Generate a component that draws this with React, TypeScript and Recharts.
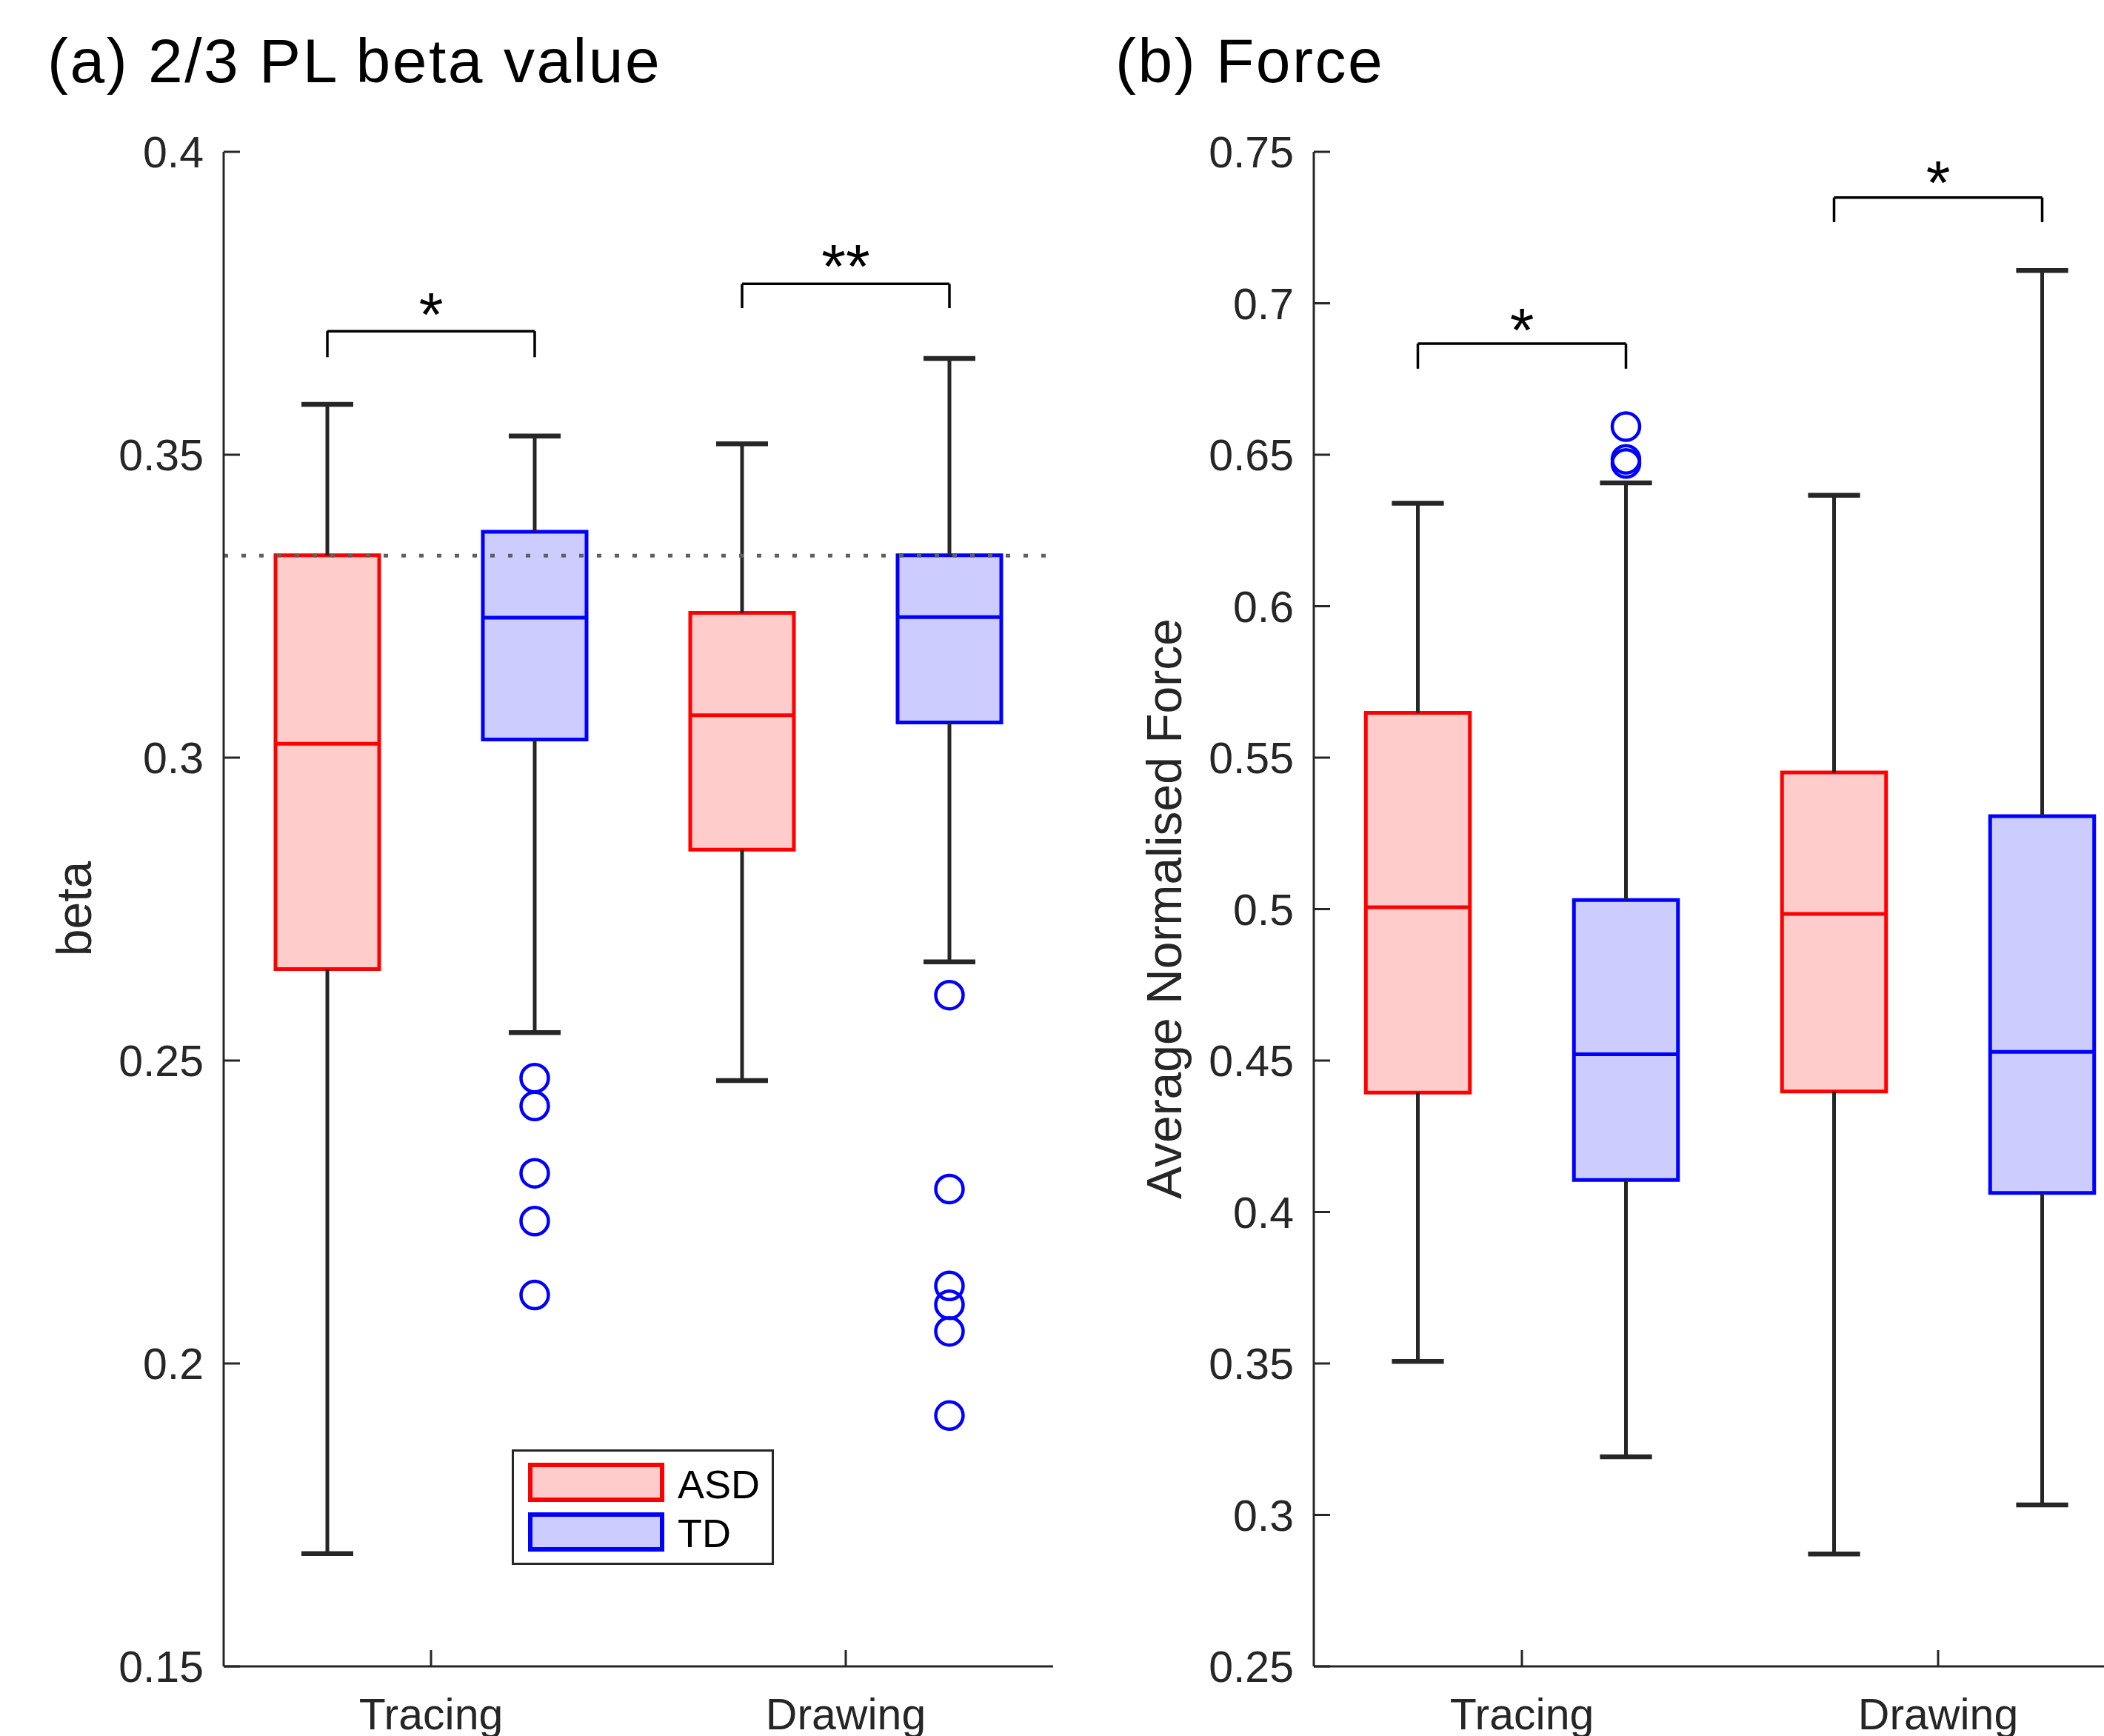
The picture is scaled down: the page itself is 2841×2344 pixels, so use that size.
import React from 'react';
import { ComposedChart, XAxis, YAxis, Scatter, ReferenceArea, ReferenceLine, ReferenceDot, Legend } from 'recharts';

// groups and categories
const CATEGORIES = ['Tracing', 'Drawing'];
const CATEGORY_TICKS = [1.5, 3.5];
const GROUPS = ['ASD', 'TD'];
const BOX_POSITIONS = [1, 2, 3, 4]; // ASD Tracing, TD Tracing, ASD Drawing, TD Drawing
const BOX_GROUP = [0, 1, 0, 1];

// (a) 2/3 PL beta value
const BETA_TICKS = [0.15, 0.2, 0.25, 0.3, 0.35, 0.4];
const BETA_LOW = [0.1686, 0.2546, 0.2467, 0.2663];
const BETA_Q1 = [0.2651, 0.303, 0.2848, 0.3058];
const BETA_MEDIAN = [0.3023, 0.3231, 0.307, 0.3232];
const BETA_Q3 = [0.3334, 0.3373, 0.3239, 0.3334];
const BETA_HIGH = [0.3583, 0.3531, 0.3518, 0.3659];
const BETA_OUTLIERS = [[], [0.2471, 0.2425, 0.2314, 0.2235, 0.2113], [], [0.2608, 0.2288, 0.2128, 0.2097, 0.2053, 0.1914]];
const BETA_REFERENCE = 1 / 3;
const BETA_SIG_FROM = [1, 3];
const BETA_SIG_TO = [2, 4];
const BETA_SIG_TOP = [0.3704, 0.3782];
const BETA_SIG_LEG = [0.3661, 0.3742];
const BETA_SIG_STAR = [0.3756, 0.3835];
const BETA_SIG_LABEL = ['*', '**'];

// (b) Force
const FORCE_TICKS = [0.25, 0.3, 0.35, 0.4, 0.45, 0.5, 0.55, 0.6, 0.65, 0.7, 0.75];
const FORCE_LOW = [0.3507, 0.3192, 0.2871, 0.3033];
const FORCE_Q1 = [0.4394, 0.4106, 0.4398, 0.4063];
const FORCE_MEDIAN = [0.5006, 0.4521, 0.4984, 0.4529];
const FORCE_Q3 = [0.5648, 0.503, 0.5451, 0.5307];
const FORCE_HIGH = [0.634, 0.6407, 0.6366, 0.7108];
const FORCE_OUTLIERS = [[], [0.6593, 0.6485, 0.6471], [], []];
const FORCE_SIG_FROM = [1, 3];
const FORCE_SIG_TO = [2, 4];
const FORCE_SIG_TOP = [0.6867, 0.7349];
const FORCE_SIG_LEG = [0.6784, 0.7268];
const FORCE_SIG_STAR = [0.696, 0.7447];
const FORCE_SIG_LABEL = ['*', '*'];

const FONT = '"Liberation Sans", Arial, Helvetica, sans-serif';
const INK = '#262626';
const EDGE = ['#FF0000', '#0000FF'];
const FILL = ['#FFCCCC', '#CCCCFF'];

function YTick(props: any) {
  const { x, y, payload } = props;
  return (
    <g>
      <line x1={x} y1={y} x2={x + 22} y2={y} stroke={INK} strokeWidth={3} />
      <text x={x - 27} y={y + 21} textAnchor="end" fontFamily={FONT} fontSize={59} fill={INK}>
        {String(payload.value)}
      </text>
    </g>
  );
}

function XTick(props: any) {
  const { x, y, payload } = props;
  const label = CATEGORIES[CATEGORY_TICKS.indexOf(payload.value)];
  return (
    <g>
      <line x1={x} y1={y} x2={x} y2={y - 22} stroke={INK} strokeWidth={3} />
      <text x={x} y={y + 85} textAnchor="middle" fontFamily={FONT} fontSize={59} fill={INK}>
        {label}
      </text>
    </g>
  );
}

function LegendBox() {
  return (
    <svg width={354} height={156} style={{ display: 'block' }}>
      <rect x={1.5} y={1.5} width={351} height={153} fill="#fff" stroke={INK} strokeWidth={3} />
      {GROUPS.map((g, i) => (
        <g key={g}>
          <rect x={25} y={21 + i * 67} width={178} height={47} fill={FILL[i]} stroke={EDGE[i]} strokeWidth={6} />
          <text x={224} y={66 + i * 66} fontFamily={FONT} fontSize={54} fill="#000">{g}</text>
        </g>
      ))}
    </svg>
  );
}

interface PanelProps {
  width: number;
  margin: { top: number; right: number; bottom: number; left: number };
  ticks: number[];
  low: number[];
  q1: number[];
  median: number[];
  q3: number[];
  high: number[];
  outliers: number[][];
  sigFrom: number[];
  sigTo: number[];
  sigTop: number[];
  sigLeg: number[];
  sigStar: number[];
  sigLabel: string[];
  refY?: number;
  showLegend?: boolean;
}

function BoxPanel(p: PanelProps) {
  const points = p.outliers.flatMap((vals, i) => vals.map(v => ({ x: BOX_POSITIONS[i], y: v })));
  const domain = [p.ticks[0], p.ticks[p.ticks.length - 1]];
  const whisker = { stroke: INK, strokeWidth: 5, ifOverflow: 'visible' as const };
  const cap = { stroke: INK, strokeWidth: 6.5, ifOverflow: 'visible' as const };
  const bracket = { stroke: '#000', strokeWidth: 3.5, ifOverflow: 'visible' as const };

  return (
    <ComposedChart width={p.width} height={2344} margin={p.margin}>
      <XAxis
        type="number"
        dataKey="x"
        domain={[0.5, 4.5]}
        ticks={CATEGORY_TICKS}
        interval={0}
        height={94}
        tickSize={0}
        tickMargin={0}
        tickLine={false}
        axisLine={{ stroke: INK, strokeWidth: 3 }}
        tick={(t: any) => <XTick {...t} />}
      />
      <YAxis
        type="number"
        dataKey="y"
        domain={domain}
        ticks={p.ticks}
        interval={0}
        width={200}
        tickSize={0}
        tickMargin={0}
        tickLine={false}
        axisLine={{ stroke: INK, strokeWidth: 3 }}
        tick={(t: any) => <YTick {...t} />}
      />

      {BOX_POSITIONS.map((x, i) => (
        <ReferenceLine key={`wl${i}`} segment={[{ x, y: p.low[i] }, { x, y: p.q1[i] }]} {...whisker} />
      ))}
      {BOX_POSITIONS.map((x, i) => (
        <ReferenceLine key={`wh${i}`} segment={[{ x, y: p.q3[i] }, { x, y: p.high[i] }]} {...whisker} />
      ))}
      {BOX_POSITIONS.map((x, i) => (
        <ReferenceLine key={`cl${i}`} segment={[{ x: x - 0.125, y: p.low[i] }, { x: x + 0.125, y: p.low[i] }]} {...cap} />
      ))}
      {BOX_POSITIONS.map((x, i) => (
        <ReferenceLine key={`ch${i}`} segment={[{ x: x - 0.125, y: p.high[i] }, { x: x + 0.125, y: p.high[i] }]} {...cap} />
      ))}
      {BOX_POSITIONS.map((x, i) => (
        <ReferenceArea
          key={`box${i}`}
          x1={x - 0.25}
          x2={x + 0.25}
          y1={p.q1[i]}
          y2={p.q3[i]}
          fill={FILL[BOX_GROUP[i]]}
          fillOpacity={1}
          stroke={EDGE[BOX_GROUP[i]]}
          strokeWidth={5}
          ifOverflow="visible"
        />
      ))}
      {BOX_POSITIONS.map((x, i) => (
        <ReferenceLine
          key={`med${i}`}
          segment={[{ x: x - 0.25, y: p.median[i] }, { x: x + 0.25, y: p.median[i] }]}
          stroke={EDGE[BOX_GROUP[i]]}
          strokeWidth={5}
          ifOverflow="visible"
        />
      ))}

      {p.refY !== undefined && (
        <ReferenceLine y={p.refY} stroke="#5f5f5f" strokeWidth={5} strokeDasharray="6 18" ifOverflow="visible" />
      )}

      {p.sigFrom.map((a, i) => (
        <ReferenceLine key={`bl${i}`} segment={[{ x: a, y: p.sigLeg[i] }, { x: a, y: p.sigTop[i] }]} {...bracket} />
      ))}
      {p.sigFrom.map((a, i) => (
        <ReferenceLine key={`bt${i}`} segment={[{ x: a, y: p.sigTop[i] }, { x: p.sigTo[i], y: p.sigTop[i] }]} {...bracket} />
      ))}
      {p.sigTo.map((b, i) => (
        <ReferenceLine key={`br${i}`} segment={[{ x: b, y: p.sigLeg[i] }, { x: b, y: p.sigTop[i] }]} {...bracket} />
      ))}
      {p.sigFrom.map((a, i) => (
        <ReferenceDot
          key={`star${i}`}
          x={(a + p.sigTo[i]) / 2}
          y={p.sigStar[i]}
          r={1}
          ifOverflow="visible"
          shape={(s: any) => (
            <text x={s.cx} y={s.cy + 49} textAnchor="middle" fontFamily={FONT} fontSize={84} fill="#000">
              {p.sigLabel[i]}
            </text>
          )}
        />
      ))}

      <Scatter
        data={points}
        isAnimationActive={false}
        shape={(s: any) => <circle cx={s.cx} cy={s.cy} r={18.5} fill="none" stroke="#0000FF" strokeWidth={4.5} />}
      />

      {p.showLegend && (
        <Legend
          layout="horizontal"
          verticalAlign="middle"
          align="center"
          content={() => <LegendBox />}
          wrapperStyle={{ left: 691, top: 1957, width: 354, height: 156 }}
        />
      )}
    </ComposedChart>
  );
}

export default function App() {
  return (
    <div
      style={{
        position: 'absolute',
        left: 0,
        top: 0,
        width: 2841,
        height: 2344,
        overflow: 'hidden',
        background: '#fff',
        fontFamily: FONT,
      }}
    >
      <div style={{ position: 'absolute', left: 0, top: 0 }}>
        <BoxPanel
          width={1440}
          margin={{ top: 205, right: 18, bottom: 0, left: 102 }}
          ticks={BETA_TICKS}
          low={BETA_LOW}
          q1={BETA_Q1}
          median={BETA_MEDIAN}
          q3={BETA_Q3}
          high={BETA_HIGH}
          outliers={BETA_OUTLIERS}
          sigFrom={BETA_SIG_FROM}
          sigTo={BETA_SIG_TO}
          sigTop={BETA_SIG_TOP}
          sigLeg={BETA_SIG_LEG}
          sigStar={BETA_SIG_STAR}
          sigLabel={BETA_SIG_LABEL}
          refY={BETA_REFERENCE}
          showLegend
        />
      </div>
      <div style={{ position: 'absolute', left: 1440, top: 0 }}>
        <BoxPanel
          width={1514}
          margin={{ top: 205, right: 56, bottom: 0, left: 134 }}
          ticks={FORCE_TICKS}
          low={FORCE_LOW}
          q1={FORCE_Q1}
          median={FORCE_MEDIAN}
          q3={FORCE_Q3}
          high={FORCE_HIGH}
          outliers={FORCE_OUTLIERS}
          sigFrom={FORCE_SIG_FROM}
          sigTo={FORCE_SIG_TO}
          sigTop={FORCE_SIG_TOP}
          sigLeg={FORCE_SIG_LEG}
          sigStar={FORCE_SIG_STAR}
          sigLabel={FORCE_SIG_LABEL}
        />
      </div>
      <svg width={2841} height={2344} style={{ position: 'absolute', left: 0, top: 0, pointerEvents: 'none' }}>
        <text x={64} y={111} fontFamily={FONT} fontSize={84} letterSpacing={2.5} fill="#000">(a) 2/3 PL beta value</text>
        <text x={1506} y={111} fontFamily={FONT} fontSize={84} letterSpacing={2.5} fill="#000">(b) Force</text>
        <text transform="translate(123,1227) rotate(-90)" textAnchor="middle" fontFamily={FONT} fontSize={66} fill={INK}>beta</text>
        <text transform="translate(1595,1227) rotate(-90)" textAnchor="middle" fontFamily={FONT} fontSize={66} fill={INK}>Average Normalised Force</text>
      </svg>
    </div>
  );
}
